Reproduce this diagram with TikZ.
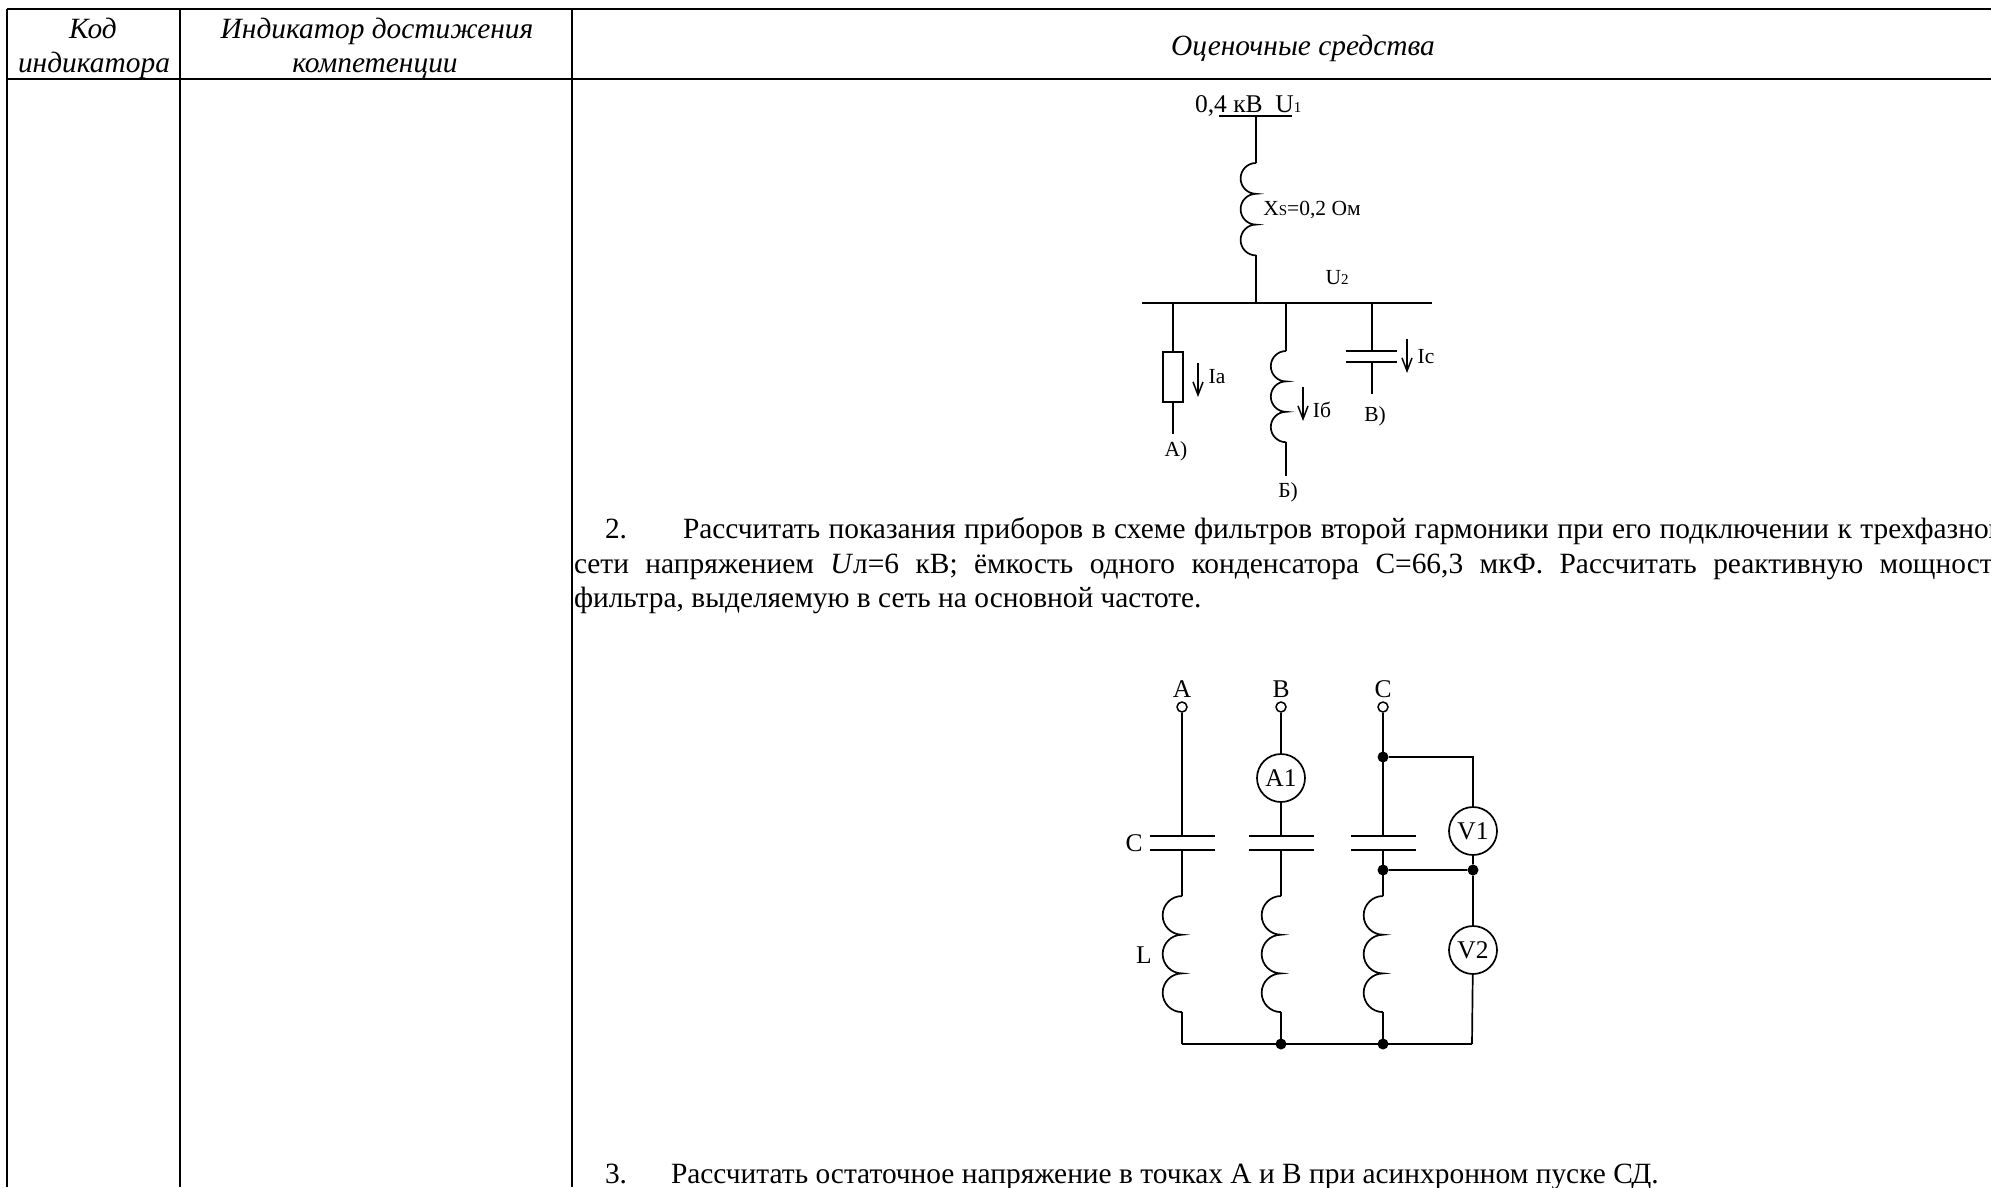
\documentclass[tikz,border=0pt]{standalone}
\usepackage{fontspec}
\setmainfont{Liberation Serif}
\usetikzlibrary{arrows.meta}
\newcommand{\bodyf}{\fontsize{29.4}{34}\selectfont}
\newcommand{\bigf}{\fontsize{25.5}{30}\selectfont}
\newcommand{\midf}{\fontsize{21.5}{25}\selectfont}
\newcommand{\smf}{\fontsize{15}{17}\selectfont}
\newcommand{\coilpath}[3]{% from, radius
  \draw[wire] (#1) arc[start angle=90,end angle=270,radius=#2pt]
    arc[start angle=90,end angle=270,radius=#2pt]
    arc[start angle=90,end angle=270,radius=#2pt] coordinate (#3);}
\tikzset{
  x=1pt,y=-1pt,
  wire/.style={line width=1.7pt,line cap=butt},
  grid/.style={line width=2pt},
  txt/.style={inner sep=0pt,outer sep=0pt,font=\bodyf,anchor=base west},
  ctxt/.style={inner sep=0pt,outer sep=0pt,font=\bigf,anchor=base},
  lbl/.style={inner sep=0pt,outer sep=0pt,font=\midf,anchor=base},
  hdr/.style={inner sep=0pt,outer sep=0pt,font=\bodyf\itshape,anchor=base},
  meter/.style={circle,draw,line width=1.7pt,minimum size=48pt,inner sep=0pt,font=\bigf},
  term/.style={circle,draw,line width=1.5pt,fill=white,minimum size=10pt,inner sep=0pt},
  dot/.style={circle,fill=black,minimum size=11pt,inner sep=0pt},
  cur/.style={line width=1.5pt,-{Straight Barb[length=13pt,width=10pt]}}
}
\begin{document}
\begin{tikzpicture}
\useasboundingbox (0,0) rectangle (1991,1187);
\clip (0,0) rectangle (1991,1187);
% table
\coordinate (tl) at (7,9); \coordinate (tr) at (1991,9);
\coordinate (hl) at (7,79); \coordinate (hr) at (1991,79);
\coordinate (c1t) at (180,9); \coordinate (c1b) at (180,1187);
\coordinate (c2t) at (572,9); \coordinate (c2b) at (572,1187);
\coordinate (c0b) at (7,1187);
\draw[grid] (tl) -- (tr) (hl) -- (hr) (tl) -- (c0b) (c1t) -- (c1b) (c2t) -- (c2b);
\node[hdr] (h1a) at (93,38) {Код};
\node[hdr] (h1b) at (94,72) {индикатора};
\node[hdr] (h2a) at (377,38) {Индикатор достижения};
\node[hdr] (h2b) at (375,72) {компетенции};
\node[hdr] (h3) at (1303,55) {Оценочные средства};
% first circuit
\coordinate (b1l) at (1219,116); \coordinate (b1r) at (1292,116);
\coordinate (b1m) at (1256,116); \coordinate (k1t) at (1256,163);
\coordinate (b2l) at (1142,303); \coordinate (b2r) at (1432,303);
\coordinate (b2m) at (1256,303);
\draw[wire] (b1l) -- (b1r) (b2l) -- (b2r) (b1m) -- (k1t);
\coilpath{k1t}{15.4}{k1b}
\draw[wire] (k1b) -- (b2m);
\node[txt,font=\bigf] (t04) at (1195,112) {0,4 кВ\ \ U{\smf 1}};
\node[lbl] (txs) at (1312,215) {X{\smf S}=0,2 Ом};
\node[lbl] (tu2) at (1337,284) {U{\smf 2}};
% branch a
\coordinate (a0) at (1173,303); \coordinate (a3) at (1173,434);
\node[draw,line width=1.7pt,minimum width=20pt,minimum height=50pt,inner sep=0pt] (ra) at (1173,377) {};
\draw[wire] (a0) -- (ra.north) (ra.south) -- (a3);
\coordinate (ia0) at (1198,363); \coordinate (ia1) at (1198,397);
\draw[cur] (ia0) -- (ia1);
\node[lbl] (tia) at (1217,383) {Iа};
\node[lbl] (ta) at (1176,456) {А)};
% branch b
\coordinate (bb0) at (1286,303); \coordinate (bb1) at (1286,351);
\coordinate (bb3) at (1286,476);
\draw[wire] (bb0) -- (bb1);
\coilpath{bb1}{15.2}{bb2}
\draw[wire] (bb2) -- (bb3);
\coordinate (ib0) at (1303,387); \coordinate (ib1) at (1303,421);
\draw[cur] (ib0) -- (ib1);
\node[lbl] (tib) at (1322,417) {Iб};
\node[lbl] (tb) at (1288,497) {Б)};
% branch c
\coordinate (cc0) at (1372,303); \coordinate (cc1) at (1372,351);
\coordinate (cc2) at (1372,362); \coordinate (cc3) at (1372,394);
\coordinate (pl1) at (1346,351); \coordinate (pr1) at (1397,351);
\coordinate (pl2) at (1346,362); \coordinate (pr2) at (1397,362);
\draw[wire] (cc0) -- (cc1) (cc2) -- (cc3) (pl1) -- (pr1) (pl2) -- (pr2);
\coordinate (ic0) at (1407,339); \coordinate (ic1) at (1407,373);
\draw[cur] (ic0) -- (ic1);
\node[lbl] (tic) at (1426,363) {Iс};
\node[lbl] (tv) at (1375,421) {В)};
% paragraph
\node[txt] (p2n) at (605,538) {2.};
\node[txt] (p2a) at (683,538) {\hbox spread 14pt{Рассчитать показания приборов в схеме фильтров второй гармоники при его подключении к трехфазной}};
\node[txt] (p2b) at (574,573) {\hbox to 1432pt{сети\hfill напряжением\hfill \textit{U}л=6\hfill кВ;\hfill ёмкость\hfill одного\hfill конденсатора\hfill С=66,3\hfill мкФ.\hfill Рассчитать\hfill реактивную\hfill мощность}};
\node[txt] (p2c) at (574,607) {фильтра, выделяемую в сеть на основной частоте.};
\node[txt] (p3n) at (605,1183) {3.};
\node[txt] (p3a) at (671,1183) {Рассчитать остаточное напряжение в точках А и В при асинхронном пуске СД.};
% second circuit terminals
\node[term] (ta1) at (1182,707) {};
\node[term] (tb1) at (1281,707) {};
\node[term] (tc1) at (1383,707) {};
\node[ctxt] (lA) at (1182,697) {A};
\node[ctxt] (lB) at (1281,697) {B};
\node[ctxt] (lC) at (1383,697) {C};
\node[ctxt] (lCap) at (1134,851) {C};
\node[ctxt] (lL) at (1144,963) {L};
% capacitors
\foreach \n/\x in {a/1182,b/1281,c/1383}{
  \coordinate (\n t) at (\x,836); \coordinate (\n u) at (\x,850);
  \coordinate (\n k) at (\x,896);
  \coordinate (\n pl) at (\x-32.5,836); \coordinate (\n pr) at (\x+32.5,836);
  \coordinate (\n ql) at (\x-32.5,850); \coordinate (\n qr) at (\x+32.5,850);
  \coordinate (\n e) at (\x,1044);
  \draw[wire] (\n pl) -- (\n pr) (\n ql) -- (\n qr) (\n u) -- (\n k);
  \coilpath{\n k}{19.35}{\n z}
  \draw[wire] (\n z) -- (\n e);
}
\node[meter] (A1) at (1281,778) {A1};
\node[meter] (V1) at (1473,831) {V1};
\node[meter] (V2) at (1473,950) {V2};
\node[dot] (d1) at (1383,757) {};
\node[dot] (d2) at (1383,870) {};
\node[dot] (d3) at (1473,870) {};
\node[dot] (d4) at (1281,1044) {};
\node[dot] (d5) at (1383,1044) {};
\coordinate (ve) at (1472,1044);
\draw[wire] (ta1) -- (at);
\draw[wire] (tb1) -- (A1) (A1) -- (bt);
\draw[wire] (tc1) -- (ct);
\draw[wire] (d1) -| (V1);
\draw[wire] (d2) -- (d3) (V1) -- (d3) (d3) -- (V2) (V2) -- (ve);
\draw[wire] (ae) -- (ve);
\end{tikzpicture}
\end{document}
